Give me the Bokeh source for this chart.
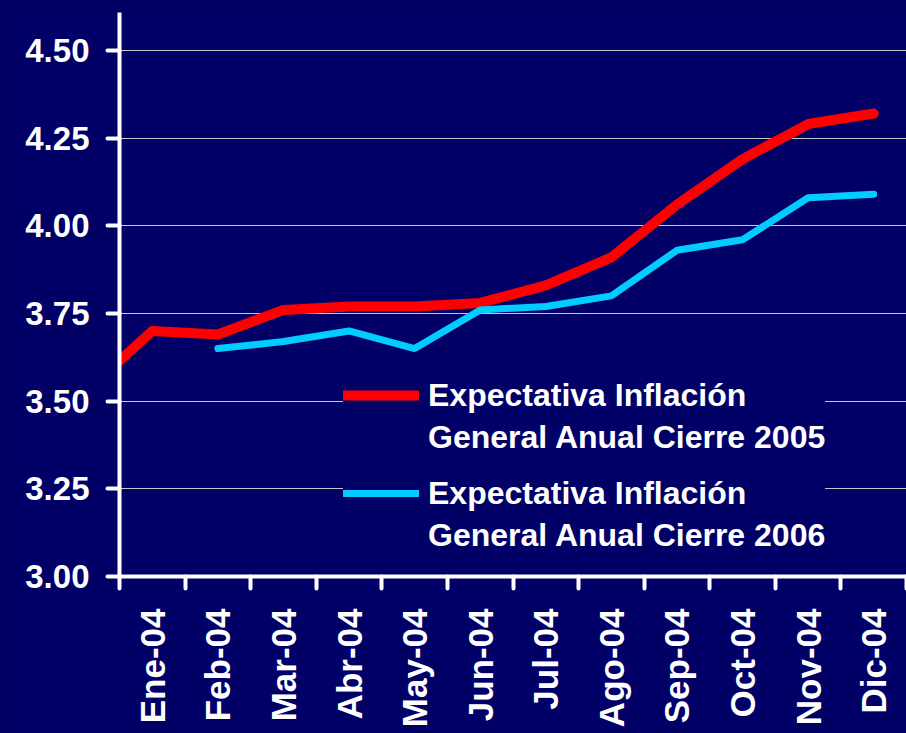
import numpy as np
from math import pi
from bokeh.plotting import figure
from bokeh.models import Range1d, FixedTicker, Legend, LegendItem, NumeralTickFormatter
from bokeh.embed import file_html
from bokeh.resources import INLINE

# ---- data ----
periods = ["Dic-03", "Ene-04", "Feb-04", "Mar-04", "Abr-04", "May-04", "Jun-04",
           "Jul-04", "Ago-04", "Sep-04", "Oct-04", "Nov-04", "Dic-04"]
shown_months = periods[1:]
exp_2005 = [3.53, 3.70, 3.69, 3.76, 3.77, 3.77, 3.78, 3.83, 3.91, 4.06, 4.19, 4.29, 4.32]
exp_2006 = [np.nan, np.nan, 3.65, 3.67, 3.70, 3.65, 3.76, 3.77, 3.80, 3.93, 3.96, 4.08, 4.09]
y_ticks = [3.00, 3.25, 3.50, 3.75, 4.00, 4.25, 4.50]
label_2005 = ["Expectativa Inflación", "General Anual Cierre 2005"]
label_2006 = ["Expectativa Inflación", "General Anual Cierre 2006"]

BG = "#000066"
FONT = "Liberation Sans"

xs = np.arange(len(periods)) - 0.5   # Ene-04 centred at 0.5

p = figure(width=906, height=733, output_backend="svg", toolbar_location=None,
           x_range=Range1d(0, len(shown_months)), y_range=Range1d(3.0, 4.608),
           min_border_left=119, min_border_right=0, min_border_top=12, min_border_bottom=157)
p.background_fill_color = BG
p.border_fill_color = BG
p.outline_line_color = None

r1 = p.line(xs, exp_2005, line_color="#FF0000", line_width=10, line_cap="round", line_join="round")
r2 = p.line(xs, np.array(exp_2006, dtype=float), line_color="#00CCFF", line_width=7,
            line_cap="round", line_join="round")
dummy = p.line(x=[], y=[], line_alpha=0)

# x axis
xa = p.xaxis[0]
xa.ticker = FixedTicker(ticks=[i + 0.5 for i in range(len(shown_months))],
                        minor_ticks=list(range(len(shown_months) + 1)))
xa.major_label_overrides = {i + 0.5: m for i, m in enumerate(shown_months)}
xa.major_label_orientation = pi / 2
xa.major_tick_out = 0
xa.major_tick_in = 0
xa.minor_tick_out = 12
xa.minor_tick_in = 0
xa.minor_tick_line_width = 4
xa.minor_tick_line_color = "white"
xa.minor_tick_line_cap = "round"
xa.major_label_standoff = 20

# y axis
ya = p.yaxis[0]
ya.ticker = FixedTicker(ticks=y_ticks, minor_ticks=[])
ya.formatter = NumeralTickFormatter(format="0.00")
ya.major_tick_out = 12
ya.major_tick_in = 0
ya.major_tick_line_width = 4
ya.major_tick_line_color = "white"
ya.major_tick_line_cap = "round"
ya.major_label_standoff = 18
ya.minor_tick_line_color = None

for ax, fs in ((xa, "35px"), (ya, "33px")):
    ax.axis_line_color = "white"
    ax.axis_line_width = 4
    ax.major_label_text_color = "white"
    ax.major_label_text_font = FONT
    ax.major_label_text_font_style = "bold"
    ax.major_label_text_font_size = fs

p.xgrid.grid_line_color = None
p.ygrid.ticker = FixedTicker(ticks=y_ticks[1:])
p.ygrid.grid_line_color = "#C8C8C8"
p.ygrid.grid_line_width = 1

def make_legend(items, loc):
    lg = Legend(items=items, location=loc, orientation="vertical",
                background_fill_color=BG, background_fill_alpha=1.0,
                border_line_color=None, padding=8, spacing=0, margin=0,
                glyph_width=76, glyph_height=42, label_height=42, label_standoff=9,
                label_text_color="white", label_text_font=FONT,
                label_text_font_style="bold", label_text_font_size="32px")
    return lg

leg_a = make_legend([LegendItem(label=label_2005[0], renderers=[r1]),
                     LegendItem(label=label_2005[1], renderers=[dummy])], (224, 118))
leg_b = make_legend([LegendItem(label=label_2006[0], renderers=[r2]),
                     LegendItem(label=label_2006[1], renderers=[dummy])], (224, 20))
p.add_layout(leg_a, "center")
p.add_layout(leg_b, "center")

html = file_html(p, INLINE)
html = html.replace("<head>", "<head><style>body{background:%s;}</style>" % BG, 1)
open("out.html", "w").write(html)
